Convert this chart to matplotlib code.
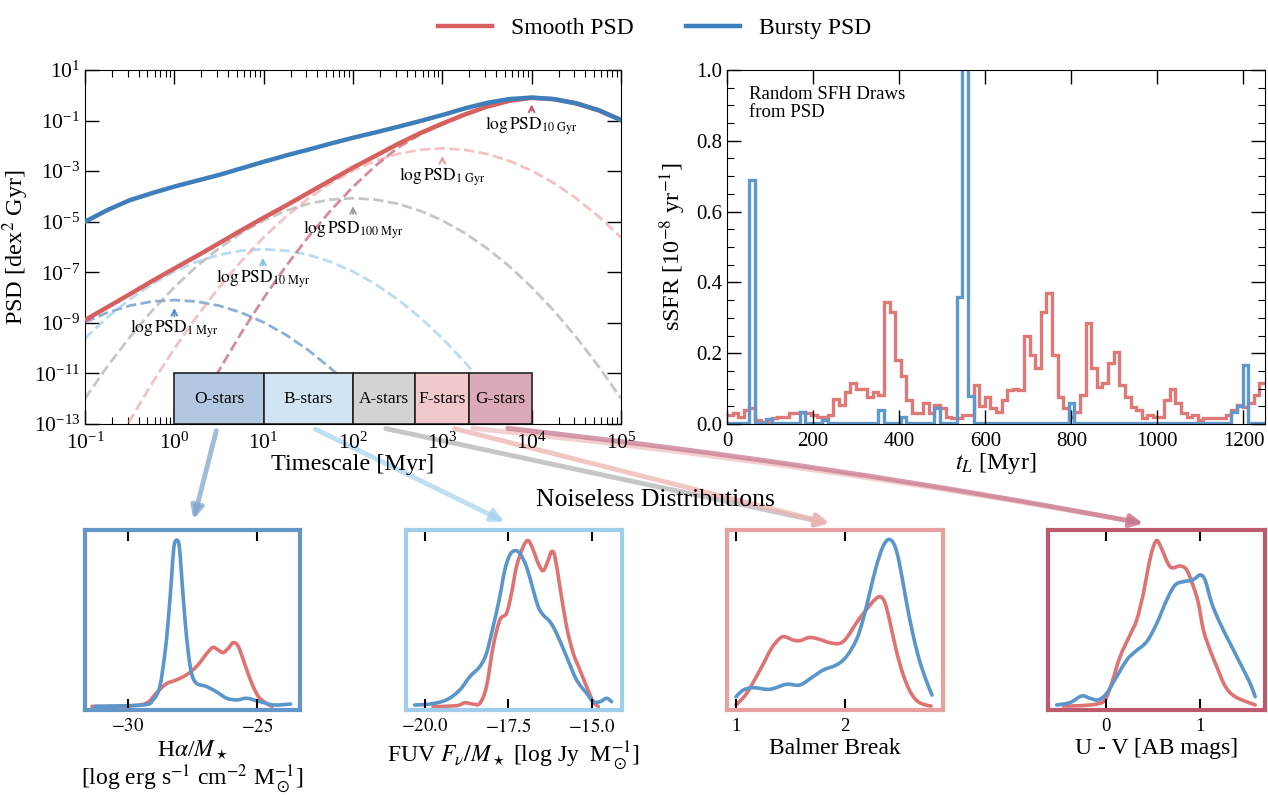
import numpy as np
import matplotlib
matplotlib.use('Agg')
import matplotlib.pyplot as plt
from matplotlib.patches import Rectangle, FancyArrowPatch, PathPatch
from matplotlib.path import Path
from matplotlib.ticker import FixedLocator, LogLocator, NullLocator, NullFormatter

plt.rcParams['font.family'] = ['Liberation Serif', 'DejaVu Serif']
plt.rcParams['mathtext.fontset'] = 'stix'

nan = np.nan
# ---------------- PSD panel data (log10 values) ----------------
log_tau = [-1.0, -0.75, -0.5, -0.25, 0.0, 0.25, 0.5, 0.75, 1.0, 1.25, 1.5, 1.75, 2.0,
           2.25, 2.5, 2.75, 3.0, 3.25, 3.5, 3.75, 4.0, 4.25, 4.5, 4.75, 5.0]
psd_smooth = [-8.89, -8.38, -7.87, -7.35, -6.85, -6.36, -5.85, -5.34, -4.84, -4.36, -3.86, -3.36, -2.86,
              -2.40, -1.93, -1.50, -1.12, -0.76, -0.45, -0.22, -0.10, -0.155, -0.32, -0.595, -0.98]
psd_bursty = [-5.00, -4.54, -4.15, -3.87, -3.61, -3.38, -3.15, -2.89, -2.63, -2.38, -2.15, -1.91, -1.68,
              -1.47, -1.25, -1.02, -0.78, -0.52, -0.30, -0.15, -0.09, -0.15, -0.32, -0.59, -0.98]
psd_1myr = [-8.98, -8.595, -8.32, -8.155, -8.10, -8.155, -8.32, -8.595, -8.98, -9.475, -10.08, -10.795, -11.62,
            -12.555, -13.60, -14.755, nan, nan, nan, nan, nan, nan, nan, nan, nan]
psd_10myr = [-9.61, -8.785, -8.07, -7.465, -6.97, -6.585, -6.31, -6.145, -6.09, -6.145, -6.31, -6.585, -6.97,
             -7.465, -8.07, -8.785, -9.61, -10.545, -11.59, -12.745, -14.01, nan, nan, nan, nan]
psd_100myr = [-11.99, -10.725, -9.57, -8.525, -7.59, -6.765, -6.05, -5.445, -4.95, -4.565, -4.29, -4.125, -4.07,
              -4.125, -4.29, -4.565, -4.95, -5.445, -6.05, -6.765, -7.59, -8.525, -9.57, -10.725, -11.99]
psd_1gyr = [nan, -14.475, -12.88, -11.395, -10.02, -8.755, -7.60, -6.555, -5.62, -4.795, -4.08, -3.475, -2.98,
            -2.595, -2.32, -2.155, -2.10, -2.155, -2.32, -2.595, -2.98, -3.475, -4.08, -4.795, -5.62]
psd_10gyr = [nan, nan, nan, nan, -14.18, -12.475, -10.88, -9.395, -8.02, -6.755, -5.60, -4.555, -3.62,
             -2.795, -2.08, -1.55, -1.15, -0.78, -0.46, -0.23, -0.10, -0.155, -0.32, -0.595, -0.98]

# star classes: (name, tau_min, tau_max)
star_names = ['O-stars', 'B-stars', 'A-stars', 'F-stars', 'G-stars']
star_lo = [1, 10, 100, 500, 2000]
star_hi = [10, 100, 500, 2000, 10000]

# ---------------- SFH draws (96 bins over 0-1250 Myr) ----------------
sfh_smooth = [0.025, 0.03, 0.02, 0.04, 0.045, 0.01, 0.005, 0.005, 0.016, 0.02, 0.02, 0.03,
              0.03, 0.035, 0.03, 0.025, 0.02, 0.02, 0.025, 0.072, 0.054, 0.091, 0.115, 0.098,
              0.098, 0.077, 0.091, 0.082, 0.346, 0.317, 0.18, 0.136, 0.068, 0.03, 0.03, 0.058,
              0.03, 0.054, 0.044, 0.02, 0.016, 0.016, 0.025, 0.025, 0.11, 0.05, 0.077, 0.044,
              0.035, 0.068, 0.096, 0.10, 0.096, 0.25, 0.195, 0.157, 0.317, 0.37, 0.195, 0.077,
              0.044, 0.02, 0.035, 0.082, 0.284, 0.157, 0.105, 0.115, 0.171, 0.204, 0.11, 0.077,
              0.049, 0.04, 0.016, 0.025, 0.02, 0.02, 0.068, 0.10, 0.058, 0.03, 0.02, 0.025,
              0.01, 0.016, 0.016, 0.016, 0.016, 0.025, 0.04, 0.054, 0.049, 0.058, 0.082, 0.115]
sfh_bursty = [0.003, 0.003, 0.003, 0.003, 0.69, 0.003, 0.003, 0.015, 0.003, 0.003, 0.003, 0.003,
              0.003, 0.035, 0.003, 0.003, 0.003, 0.012, 0.003, 0.003, 0.003, 0.003, 0.003, 0.003,
              0.003, 0.003, 0.003, 0.04, 0.003, 0.003, 0.003, 0.02, 0.003, 0.003, 0.003, 0.003,
              0.003, 0.045, 0.003, 0.003, 0.003, 0.36, 1.6, 0.08, 0.003, 0.003, 0.003, 0.003,
              0.003, 0.003, 0.003, 0.003, 0.003, 0.003, 0.003, 0.003, 0.003, 0.003, 0.003, 0.003,
              0.003, 0.06, 0.003, 0.003, 0.003, 0.003, 0.003, 0.003, 0.003, 0.003, 0.003, 0.003,
              0.003, 0.003, 0.003, 0.003, 0.003, 0.003, 0.003, 0.003, 0.003, 0.003, 0.003, 0.003,
              0.003, 0.003, 0.003, 0.003, 0.003, 0.003, 0.035, 0.05, 0.167, 0.003, 0.003, 0.003]

# ---------------- Noiseless distributions (x, relative density) ----------------
ha_x_b = [-31.30, -29.42, -29.03, -28.77, -28.57, -28.44, -28.31, -28.22, -28.11, -28.01, -27.92, -27.79,
          -27.66, -27.53, -27.34, -26.95, -26.56, -26.17, -25.78, -25.39, -24.87, -24.35, -23.70]
ha_y_b = [0.02, 0.028, 0.056, 0.13, 0.315, 0.50, 0.74, 0.907, 0.944, 0.907, 0.74, 0.50,
          0.315, 0.20, 0.148, 0.13, 0.10, 0.065, 0.056, 0.065, 0.046, 0.028, 0.033]
ha_x_r = [-31.40, -30.10, -29.30, -28.91, -28.52, -28.13, -27.74, -27.35, -27.09, -26.89, -26.70, -26.50,
          -26.31, -26.11, -25.92, -25.72, -25.46, -25.20, -24.94, -24.68, -24.42]
ha_y_r = [0.02, 0.022, 0.037, 0.093, 0.145, 0.167, 0.195, 0.241, 0.287, 0.324, 0.348, 0.333,
          0.319, 0.343, 0.374, 0.352, 0.25, 0.148, 0.074, 0.041, 0.02]

fuv_x_b = [-20.31, -19.86, -19.36, -18.96, -18.66, -18.36, -18.16, -17.96, -17.76, -17.61, -17.46, -17.31,
           -17.16, -16.96, -16.76, -16.61, -16.46, -16.26, -16.06, -15.76, -15.46, -15.16, -14.96, -14.76,
           -14.56, -14.41]
fuv_y_b = [0.028, 0.033, 0.056, 0.111, 0.185, 0.241, 0.315, 0.463, 0.63, 0.778, 0.861, 0.885,
           0.870, 0.796, 0.667, 0.574, 0.528, 0.491, 0.426, 0.296, 0.167, 0.093, 0.046, 0.046,
           0.065, 0.046]
fuv_x_r = [-19.76, -19.06, -18.81, -18.56, -18.36, -18.16, -17.96, -17.76, -17.56, -17.41, -17.26, -17.06,
           -16.91, -16.76, -16.61, -16.46, -16.31, -16.21, -16.11, -15.96, -15.76, -15.56, -15.36, -15.16,
           -14.96, -14.81]
fuv_y_r = [0.019, 0.024, 0.04, 0.033, 0.037, 0.130, 0.352, 0.500, 0.537, 0.648, 0.796, 0.907,
           0.941, 0.889, 0.815, 0.774, 0.833, 0.880, 0.852, 0.685, 0.463, 0.315, 0.222, 0.130,
           0.046, 0.019]

bb_x_b = [1.000, 1.067, 1.159, 1.311, 1.463, 1.585, 1.707, 1.799, 1.921, 2.012, 2.104, 2.165,
          2.226, 2.287, 2.348, 2.402, 2.454, 2.500, 2.561, 2.622, 2.683, 2.744, 2.799]
bb_y_b = [0.074, 0.111, 0.124, 0.115, 0.143, 0.139, 0.185, 0.222, 0.250, 0.296, 0.389, 0.500,
          0.648, 0.796, 0.907, 0.948, 0.917, 0.815, 0.611, 0.426, 0.278, 0.167, 0.083]
bb_x_r = [1.000, 1.098, 1.220, 1.326, 1.402, 1.448, 1.524, 1.585, 1.677, 1.768, 1.860, 1.951,
          2.012, 2.073, 2.134, 2.195, 2.256, 2.317, 2.363, 2.409, 2.470, 2.530, 2.591, 2.652,
          2.713, 2.790]
bb_y_r = [0.028, 0.093, 0.222, 0.343, 0.398, 0.407, 0.389, 0.385, 0.403, 0.392, 0.374, 0.370,
          0.398, 0.454, 0.509, 0.556, 0.602, 0.630, 0.602, 0.500, 0.333, 0.204, 0.111, 0.056,
          0.033, 0.022]

uv_x_b = [-0.525, -0.383, -0.259, -0.170, -0.082, 0.007, 0.113, 0.220, 0.309, 0.433, 0.539, 0.645,
          0.734, 0.823, 0.894, 0.947, 1.000, 1.053, 1.124, 1.213, 1.319, 1.426, 1.532, 1.585]
uv_y_b = [0.028, 0.041, 0.078, 0.065, 0.056, 0.093, 0.185, 0.278, 0.324, 0.380, 0.481, 0.611,
          0.694, 0.713, 0.719, 0.731, 0.750, 0.722, 0.593, 0.481, 0.370, 0.259, 0.148, 0.074]
uv_x_r = [-0.454, -0.277, -0.099, -0.011, 0.060, 0.149, 0.255, 0.326, 0.397, 0.450, 0.497, 0.539,
          0.582, 0.681, 0.787, 0.858, 0.929, 0.982, 1.035, 1.106, 1.177, 1.266, 1.372, 1.585]
uv_y_r = [0.022, 0.024, 0.033, 0.056, 0.148, 0.296, 0.417, 0.500, 0.648, 0.796, 0.898, 0.941,
          0.907, 0.796, 0.800, 0.778, 0.685, 0.593, 0.444, 0.333, 0.241, 0.133, 0.074, 0.028]

# ---------------- styles ----------------
RED = '#d65f5f'
BLUE = '#3d7ebb'
RED2 = '#e07878'
BLUE2 = '#5f98cc'
comp_cols = ['#5b8fc5', '#8cc4e6', '#a0a0a0', '#ee9a9a', '#c55a72']
comp_alpha = [0.7, 0.6, 0.6, 0.6, 0.7]
star_fill = ['#b2c8e1', '#d0e4f3', '#d3d3d3', '#f1c9cb', '#dcaab6']
frame_cols = ['#6496c8', '#a0cdeb', '#e6a0a0', '#be5a6e']

W, H = 1268, 795
fig = plt.figure(figsize=(W / 100, H / 100), dpi=100)

def rect(x0, y0, x1, y1):
    return [x0 / W, 1 - y1 / H, (x1 - x0) / W, (y1 - y0) / H]

def fp(x, y):
    return (x / W, 1 - y / H)

def smooth_line(ax, xs, ys, **kw):
    """Draw a smooth curve passing through the given points (Catmull-Rom as Bezier path)."""
    P = np.column_stack([xs, ys])
    Pe = np.vstack([P[0], P, P[-1]])
    verts = [P[0]]
    codes = [Path.MOVETO]
    for i in range(1, len(Pe) - 2):
        p0, p1, p2, p3 = Pe[i - 1], Pe[i], Pe[i + 1], Pe[i + 2]
        verts += [p1 + (p2 - p0) / 6.0, p2 - (p3 - p1) / 6.0, p2]
        codes += [Path.CURVE4] * 3
    ax.add_patch(PathPatch(Path(verts, codes), fill=False, capstyle='round', **kw))

# ---------------- PSD panel ----------------
ax1 = fig.add_axes(rect(85, 70, 621, 424))
tau = 10 ** np.array(log_tau)
comps = [psd_1myr, psd_10myr, psd_100myr, psd_1gyr, psd_10gyr]
for c, col, al in zip(comps, comp_cols, comp_alpha):
    ax1.plot(tau, 10 ** np.array(c), ls='--', lw=2, color=col, alpha=al, zorder=2)
ln_s, = ax1.plot(tau, 10 ** np.array(psd_smooth), color=RED, lw=3.2, zorder=3, label='Smooth PSD')
ln_b, = ax1.plot(tau, 10 ** np.array(psd_bursty), color=BLUE, lw=3.2, zorder=4, label='Bursty PSD')
ax1.set_xscale('log')
ax1.set_yscale('log')
ax1.set_xlim(0.1, 1e5)
ax1.set_ylim(1e-13, 10)
ax1.yaxis.set_major_locator(FixedLocator([1e-13, 1e-11, 1e-9, 1e-7, 1e-5, 1e-3, 1e-1, 1e1]))
ax1.yaxis.set_minor_locator(NullLocator())
ax1.xaxis.set_major_locator(LogLocator(base=10, numticks=12))
ax1.xaxis.set_minor_locator(LogLocator(base=10, subs=np.arange(2, 10), numticks=12))
ax1.xaxis.set_minor_formatter(NullFormatter())
ax1.tick_params(which='both', direction='in', top=True, right=True, labelsize=15.5)
ax1.tick_params(axis='x', pad=6)
ax1.tick_params(which='major', length=10, width=1)
ax1.tick_params(which='minor', length=5, width=0.8)
ax1.set_xlabel('Timescale [Myr]', fontsize=17.5, labelpad=0)
ax1.set_ylabel(r'PSD [dex$^2$ Gyr]', fontsize=17.5, labelpad=2)

for name, lo, hi, fc in zip(star_names, star_lo, star_hi, star_fill):
    ax1.add_patch(Rectangle((lo, 1e-13), hi - lo, 1e-11 - 1e-13, facecolor=fc,
                            edgecolor='#222222', lw=1.2, zorder=5))
    ax1.text(np.sqrt(lo * hi), 1e-12, name, ha='center', va='center', fontsize=12.5, zorder=6)

# component labels: (x, arrow tip, arrow tail, text y, text, color)
labs = [(1.0, -8.30, -8.85, -9.22, r'$\log\mathrm{PSD}_{1\ \mathrm{Myr}}$', comp_cols[0]),
        (9.8, -6.31, -6.84, -7.26, r'$\log\mathrm{PSD}_{10\ \mathrm{Myr}}$', comp_cols[1]),
        (100, -4.27, -4.80, -5.30, r'$\log\mathrm{PSD}_{100\ \mathrm{Myr}}$', comp_cols[2]),
        (1000, -2.29, -2.69, -3.20, r'$\log\mathrm{PSD}_{1\ \mathrm{Gyr}}$', comp_cols[3]),
        (1e4, -0.25, -0.71, -1.22, r'$\log\mathrm{PSD}_{10\ \mathrm{Gyr}}$', comp_cols[4])]
for x, tip, tail, ty, txt, col in labs:
    ax1.annotate('', xy=(x, 10 ** tip), xytext=(x, 10 ** tail),
                 arrowprops=dict(arrowstyle='->', color=col, lw=1.4), zorder=6)
    ax1.text(x, 10 ** ty, txt, ha='center', va='center', fontsize=12.5, zorder=6)

# ---------------- SFH panel ----------------
ax2 = fig.add_axes(rect(727, 70, 1265, 424))
edges = np.linspace(0, 1250, len(sfh_smooth) + 1)
ax2.stairs(sfh_smooth, edges, color=RED2, lw=2.4, baseline=None)
ax2.stairs(sfh_bursty, edges, color=BLUE2, lw=2.4, baseline=None)
ax2.set_xlim(0, 1250)
ax2.set_ylim(0, 1.0)
ax2.set_xticks([0, 200, 400, 600, 800, 1000, 1200])
ax2.set_yticks([0.0, 0.2, 0.4, 0.6, 0.8, 1.0])
ax2.set_yticklabels(['0.0', '0.2', '0.4', '0.6', '0.8', '1.0'])
ax2.yaxis.set_minor_locator(FixedLocator(np.arange(0.05, 1.0, 0.05)))
ax2.tick_params(which='both', direction='in', top=True, right=True, labelsize=15)
ax2.tick_params(axis='x', pad=6)
ax2.tick_params(which='major', length=10, width=1)
ax2.tick_params(which='minor', length=5, width=0.8)
ax2.set_xlabel(r'$t_L$ [Myr]', fontsize=17.5, labelpad=0)
ax2.set_ylabel(r'sSFR [10$^{-8}$ yr$^{-1}$]', fontsize=17.5, labelpad=6)
ax2.text(0.041, 0.955, 'Random SFH Draws\nfrom PSD', transform=ax2.transAxes, ha='left', va='top',
         fontsize=13.5, linespacing=1.1)

# ---------------- bottom distribution panels ----------------
boxes = [(85, 300), (406, 622), (727, 943), (1048, 1265)]
xlims = [(-31.67, -23.33), (-20.57, -14.1), (0.917, 2.9), (-0.617, 1.69)]
xt = [[-30, -25], [-20.0, -17.5, -15.0], [1, 2], [0, 1]]
xtl = [[r'$-30$', r'$-25$'], [r'$-20.0$', r'$-17.5$', r'$-15.0$'], ['1', '2'], ['0', '1']]
xlabels = ['H$\\alpha$/$M_\\star$\n[log erg s$^{-1}$ cm$^{-2}$ M$_\\odot^{-1}$]',
           r'FUV $F_\nu/M_\star$ [log Jy  M$_\odot^{-1}$]',
           'Balmer Break', 'U - V [AB mags]']
dists = [(ha_x_r, ha_y_r, ha_x_b, ha_y_b), (fuv_x_r, fuv_y_r, fuv_x_b, fuv_y_b),
         (bb_x_r, bb_y_r, bb_x_b, bb_y_b), (uv_x_r, uv_y_r, uv_x_b, uv_y_b)]
for i, (x0, x1) in enumerate(boxes):
    ax = fig.add_axes(rect(x0, 530, x1, 710))
    xr, yr, xb, yb = dists[i]
    smooth_line(ax, xr, yr, color='#df7373', lw=2.6)
    smooth_line(ax, xb, yb, color='#5a96cb', lw=2.6)
    ax.set_xlim(*xlims[i])
    ax.set_ylim(0, 1)
    ax.set_xticks(xt[i])
    ax.set_xticklabels(xtl[i])
    ax.set_yticks([])
    ax.tick_params(axis='x', direction='in', top=True, bottom=True, length=8, width=1.5,
                   labelsize=13.5, pad=6)
    for s in ax.spines.values():
        s.set_color(frame_cols[i])
        s.set_linewidth(3)
    ax.set_xlabel(xlabels[i], fontsize=17, labelpad=2, linespacing=1.05)

# ---------------- connectors ----------------
conn = [((217, 428), (193, 522), '#7fa6d0', 0.0),
        ((313, 428), (507, 523), '#a9d3ee', 0.0),
        ((383, 428), (832, 524), '#b4b4b4', 0.0),
        ((452, 428), (832, 524), '#f0b4b4', 0.0),
        ((470, 428), (1146, 524), '#f0c0c0', -0.02),
        ((505, 428), (1146, 524), '#c87890', -0.02)]
for a, b, col, rad in conn:
    fig.add_artist(FancyArrowPatch(fp(*a), fp(*b), transform=fig.transFigure,
                                   connectionstyle='arc3,rad=%g' % rad,
                                   arrowstyle='-|>', mutation_scale=18, lw=3.5,
                                   color=col, alpha=0.75, zorder=0))

fig.text(655 / W, 1 - 500 / H, 'Noiseless Distributions', ha='center', va='center', fontsize=18.5)

fig.legend(handles=[ln_s, ln_b], loc='upper center', bbox_to_anchor=(0.516, 1.005), ncol=2,
           frameon=False, fontsize=17, handlelength=2.3, handletextpad=0.8, columnspacing=2.2)

fig.savefig('out.png', dpi=100)
